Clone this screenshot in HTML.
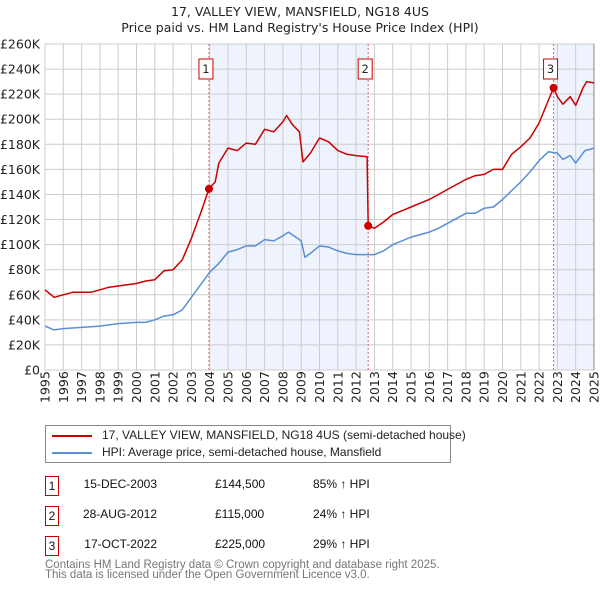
<!DOCTYPE html>
<html><head><meta charset="utf-8"><style>
body{margin:0;background:#fff;font-family:"Liberation Sans","DejaVu Sans",sans-serif;}
svg{display:block}
.tb div{white-space:nowrap}
</style></head><body>
<svg id="c" width="600" height="590" font-family="'DejaVu Sans','Liberation Sans',sans-serif"></svg>
<script>
const years=[1995,1996,1997,1998,1999,2000,2001,2002,2003,2004,2005,2006,2007,2008,2009,2010,2011,2012,2013,2014,2015,2016,2017,2018,2019,2020,2021,2022,2023,2024,2025];
const yTicks=[0,20,40,60,80,100,120,140,160,180,200,220,240,260];
const redT=[1995,1995.5,1996,1996.5,1997,1997.5,1998,1998.5,1999,1999.5,2000,2000.5,2001,2001.5,2002,2002.5,2003,2003.5,2003.96,2004.3,2004.5,2005,2005.5,2006,2006.5,2007,2007.5,2008,2008.2,2008.5,2008.9,2009.1,2009.5,2010,2010.5,2011,2011.5,2012,2012.6,2012.66,2013,2013.5,2014,2014.5,2015,2015.5,2016,2016.5,2017,2017.5,2018,2018.5,2019,2019.5,2020,2020.5,2021,2021.5,2022,2022.5,2022.79,2023,2023.3,2023.7,2024,2024.4,2024.6,2025];
const redV=[64,58,60,62,62,62,64,66,67,68,69,71,72,79,80,88,105,125,144.5,150,165,177,175,181,180,192,190,198,203,196,190,166,173,185,182,175,172,171,170,115,113,118,124,127,130,133,136,140,144,148,152,155,156,160,160,172,178,185,197,215,225,218,212,218,211,225,230,229];
const blueT=[1995,1995.5,1996,1997,1998,1999,2000,2000.5,2001,2001.5,2002,2002.5,2003,2003.5,2004,2004.5,2005,2005.5,2006,2006.5,2007,2007.5,2008,2008.3,2008.7,2009,2009.2,2009.5,2010,2010.5,2011,2011.5,2012,2012.5,2013,2013.5,2014,2014.5,2015,2016,2016.5,2017,2017.5,2018,2018.5,2019,2019.5,2020,2020.5,2021,2021.5,2022,2022.5,2023,2023.3,2023.7,2024,2024.5,2025];
const blueV=[35,32,33,34,35,37,38,38,40,43,44,48,58,68,78,85,94,96,99,99,104,103,107,110,106,103,90,93,99,98,95,93,92,92,92,95,100,103,106,110,113,117,121,125,125,129,130,136,143,150,158,167,174,173,168,171,165,175,177];
const saleT=[2003.96,2012.66,2022.79];
const saleV=[144.5,115,225];
const saleLabels=["1","2","3"];

const L=45,R=594,T=44,B=370;
const X=t=>L+(t-1995)*(R-L)/30;
const Y=v=>B-v*(B-T)/260;
const NS="http://www.w3.org/2000/svg";
const svg=document.getElementById('c');
function mk(tag,attrs,parent){const e=document.createElementNS(NS,tag);for(const k in attrs)e.setAttribute(k,attrs[k]);(parent||svg).appendChild(e);return e;}

let t=mk('text',{x:300,y:16,'text-anchor':'middle','font-size':12.5,fill:'#222'});t.textContent="17, VALLEY VIEW, MANSFIELD, NG18 4US";


t=mk('text',{x:300,y:32,'text-anchor':'middle','font-size':12.5,fill:'#222'});t.textContent="Price paid vs. HM Land Registry's House Price Index (HPI)";



let s=mk('rect',{x:X(saleT[0]),y:T,width:X(saleT[1])-X(saleT[0]),height:B-T,fill:'#eef3fd'});


s=mk('rect',{x:X(saleT[2]),y:T,width:R-X(saleT[2]),height:B-T,fill:'#eef3fd'});



years.forEach(y=>{const l=mk('line',{x1:X(y),x2:X(y),y1:T,y2:B,stroke:'#cccccc','stroke-width':1});


const tx=mk('text',{transform:`translate(${X(y)+4.5},${B+33}) rotate(-90)`,'font-size':12.5,fill:'#222'});tx.textContent=y;

});
yTicks.forEach(v=>{const l=mk('line',{x1:L,x2:R,y1:Y(v),y2:Y(v),stroke:'#cccccc','stroke-width':1});


const tx=mk('text',{x:40,y:Y(v)+4.5,'text-anchor':'end','font-size':12.5,fill:'#222'});tx.textContent=v===0?'£0':'£'+v+'K';

});
let ax=mk('line',{x1:R,x2:R,y1:T,y2:B,stroke:'#888','stroke-width':1});



saleT.forEach((st,i)=>{const l=mk('line',{x1:X(st),x2:X(st),y1:T,y2:B,stroke:'#e06666','stroke-width':1,'stroke-dasharray':'2,2'});

});

function path(ts,vs,col,name){const d=ts.map((tt,i)=>(i?'L':'M')+X(tt).toFixed(1)+','+Y(vs[i]).toFixed(1)).join('');
const p=mk('path',{d:d,fill:'none',stroke:col,'stroke-width':1.5,'stroke-linejoin':'round'});

}
path(blueT,blueV,'#5b8fd4','hpi-line');
path(redT,redV,'#cc0000','price-line');

saleT.forEach((st,i)=>{const c=mk('circle',{cx:X(st),cy:Y(saleV[i]),r:4,fill:'#cc0000'});


const g=mk('g',{});


mk('rect',{x:X(st)-10,y:59,width:14,height:20,fill:'#fff',stroke:'#cc0000','stroke-width':1},g);
const tx=mk('text',{x:X(st)-3,y:73,'text-anchor':'middle','font-size':11.5,fill:'#222'},g);tx.textContent=saleLabels[i];});
</script>
<div style="position:absolute;left:45px;top:425px;width:404px;height:36px;border:1px solid #888;font-size:12px;color:#222;font-family:'Liberation Sans',sans-serif">
  <div style="position:absolute;left:6px;top:2px;white-space:nowrap"><span style="display:inline-block;width:40px;height:2px;background:#cc0000;vertical-align:middle;margin-right:10px"></span>17, VALLEY VIEW, MANSFIELD, NG18 4US (semi-detached house)</div>
  <div style="position:absolute;left:6px;top:19px;white-space:nowrap"><span style="display:inline-block;width:40px;height:2px;background:#5b8fd4;vertical-align:middle;margin-right:10px"></span>HPI: Average price, semi-detached house, Mansfield</div>
</div>
<div class="tb" style="position:absolute;left:0;top:0;font-size:12px;color:#111;font-family:'Liberation Sans',sans-serif">
  <div>
    <div style="position:absolute;left:45px;top:476px;width:12px;height:18px;border:1px solid #cc0000;text-align:center;line-height:18px">1</div>
    <div style="position:absolute;left:57px;width:100px;top:477px;text-align:right">15-DEC-2003</div>
    <div style="position:absolute;left:215px;top:477px">£144,500</div>
    <div style="position:absolute;left:313px;top:477px">85% ↑ HPI</div>
  </div>
  <div>
    <div style="position:absolute;left:45px;top:506px;width:12px;height:18px;border:1px solid #cc0000;text-align:center;line-height:18px">2</div>
    <div style="position:absolute;left:57px;width:100px;top:507px;text-align:right">28-AUG-2012</div>
    <div style="position:absolute;left:215px;top:507px">£115,000</div>
    <div style="position:absolute;left:313px;top:507px">24% ↑ HPI</div>
  </div>
  <div>
    <div style="position:absolute;left:45px;top:536px;width:12px;height:18px;border:1px solid #cc0000;text-align:center;line-height:18px">3</div>
    <div style="position:absolute;left:57px;width:100px;top:537px;text-align:right">17-OCT-2022</div>
    <div style="position:absolute;left:215px;top:537px">£225,000</div>
    <div style="position:absolute;left:313px;top:537px">29% ↑ HPI</div>
  </div>
</div>
<div style="position:absolute;left:45px;top:560px;font-size:11.5px;color:#777;line-height:10px;font-family:'Liberation Sans',sans-serif;white-space:nowrap">Contains HM Land Registry data © Crown copyright and database right 2025.<br>This data is licensed under the Open Government Licence v3.0.</div>
</body></html>
